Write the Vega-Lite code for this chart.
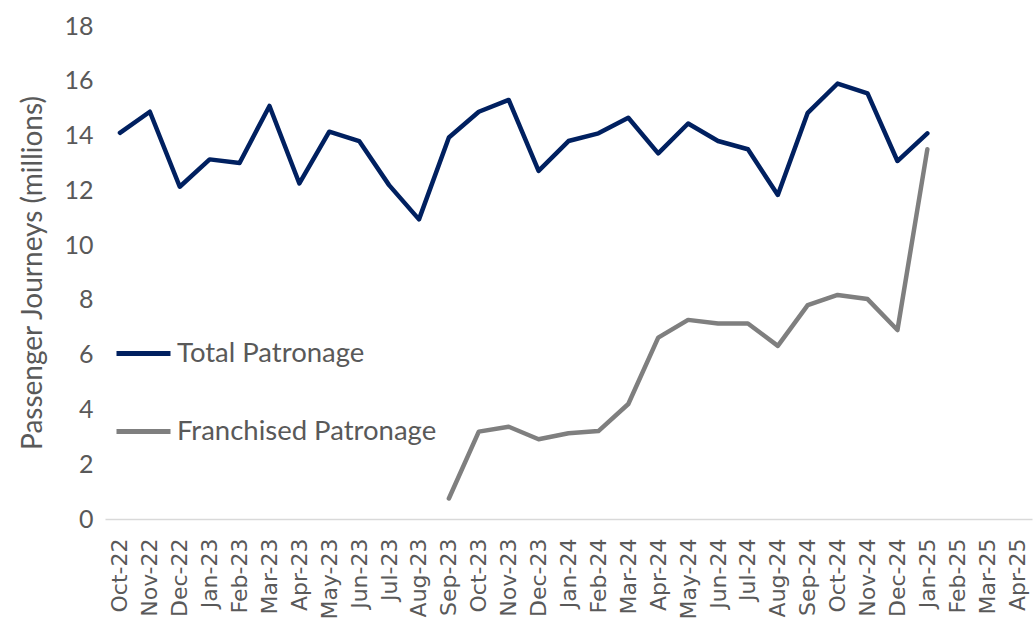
{
  "$schema": "https://vega.github.io/schema/vega-lite/v6.json",
  "width": 927,
  "height": 493,
  "autosize": {"type": "none"},
  "padding": {"left": 105, "top": 26, "right": 3, "bottom": 105},
  "background": "white",
  "config": {
    "view": {"stroke": null},
    "font": "Lato"
  },
  "data": {
    "values": [
      {"month": "Oct-22", "series": "Total Patronage", "value": 14.1},
      {"month": "Nov-22", "series": "Total Patronage", "value": 14.87},
      {"month": "Dec-22", "series": "Total Patronage", "value": 12.13},
      {"month": "Jan-23", "series": "Total Patronage", "value": 13.13},
      {"month": "Feb-23", "series": "Total Patronage", "value": 13.0},
      {"month": "Mar-23", "series": "Total Patronage", "value": 15.08},
      {"month": "Apr-23", "series": "Total Patronage", "value": 12.25},
      {"month": "May-23", "series": "Total Patronage", "value": 14.14},
      {"month": "Jun-23", "series": "Total Patronage", "value": 13.8},
      {"month": "Jul-23", "series": "Total Patronage", "value": 12.19},
      {"month": "Aug-23", "series": "Total Patronage", "value": 10.94},
      {"month": "Sep-23", "series": "Total Patronage", "value": 13.93},
      {"month": "Oct-23", "series": "Total Patronage", "value": 14.87},
      {"month": "Nov-23", "series": "Total Patronage", "value": 15.3},
      {"month": "Dec-23", "series": "Total Patronage", "value": 12.71},
      {"month": "Jan-24", "series": "Total Patronage", "value": 13.8},
      {"month": "Feb-24", "series": "Total Patronage", "value": 14.08},
      {"month": "Mar-24", "series": "Total Patronage", "value": 14.65},
      {"month": "Apr-24", "series": "Total Patronage", "value": 13.35},
      {"month": "May-24", "series": "Total Patronage", "value": 14.44},
      {"month": "Jun-24", "series": "Total Patronage", "value": 13.8},
      {"month": "Jul-24", "series": "Total Patronage", "value": 13.5},
      {"month": "Aug-24", "series": "Total Patronage", "value": 11.83},
      {"month": "Sep-24", "series": "Total Patronage", "value": 14.83},
      {"month": "Oct-24", "series": "Total Patronage", "value": 15.9},
      {"month": "Nov-24", "series": "Total Patronage", "value": 15.54},
      {"month": "Dec-24", "series": "Total Patronage", "value": 13.07},
      {"month": "Jan-25", "series": "Total Patronage", "value": 14.08},
      {"month": "Sep-23", "series": "Franchised Patronage", "value": 0.75},
      {"month": "Oct-23", "series": "Franchised Patronage", "value": 3.19},
      {"month": "Nov-23", "series": "Franchised Patronage", "value": 3.37},
      {"month": "Dec-23", "series": "Franchised Patronage", "value": 2.91},
      {"month": "Jan-24", "series": "Franchised Patronage", "value": 3.13},
      {"month": "Feb-24", "series": "Franchised Patronage", "value": 3.21},
      {"month": "Mar-24", "series": "Franchised Patronage", "value": 4.2},
      {"month": "Apr-24", "series": "Franchised Patronage", "value": 6.62},
      {"month": "May-24", "series": "Franchised Patronage", "value": 7.27},
      {"month": "Jun-24", "series": "Franchised Patronage", "value": 7.14},
      {"month": "Jul-24", "series": "Franchised Patronage", "value": 7.14},
      {"month": "Aug-24", "series": "Franchised Patronage", "value": 6.32},
      {"month": "Sep-24", "series": "Franchised Patronage", "value": 7.81},
      {"month": "Oct-24", "series": "Franchised Patronage", "value": 8.18},
      {"month": "Nov-24", "series": "Franchised Patronage", "value": 8.03},
      {"month": "Dec-24", "series": "Franchised Patronage", "value": 6.9},
      {"month": "Jan-25", "series": "Franchised Patronage", "value": 13.5}
    ]
  },
  "mark": {"type": "line", "strokeWidth": 4.5, "strokeCap": "round", "strokeJoin": "round"},
  "encoding": {
    "x": {
      "field": "month",
      "type": "nominal",
      "sort": null,
      "scale": {
        "type": "point",
        "padding": 0.5,
        "domain": ["Oct-22","Nov-22","Dec-22","Jan-23","Feb-23","Mar-23","Apr-23","May-23","Jun-23","Jul-23","Aug-23","Sep-23","Oct-23","Nov-23","Dec-23","Jan-24","Feb-24","Mar-24","Apr-24","May-24","Jun-24","Jul-24","Aug-24","Sep-24","Oct-24","Nov-24","Dec-24","Jan-25","Feb-25","Mar-25","Apr-25"]
      },
      "axis": {
        "title": null,
        "labelAngle": 270,
        "labelAlign": "right",
        "labelBaseline": "middle",
        "labelFont": "DejaVu Sans",
        "labelFontSize": 22,
        "labelColor": "#595959",
        "labelPadding": 19,
        "ticks": false,
        "domainColor": "#d9d9d9",
        "domainWidth": 1.5,
        "grid": false
      }
    },
    "y": {
      "field": "value",
      "type": "quantitative",
      "scale": {"domain": [0, 18], "nice": false},
      "axis": {
        "title": "Passenger Journeys (millions)",
        "titleFont": "Lato",
        "titleFontSize": 28,
        "titleFontWeight": "normal",
        "titleColor": "#595959",
        "titlePadding": 16,
        "values": [0,2,4,6,8,10,12,14,16,18],
        "labelFont": "Lato",
        "labelFontSize": 25,
        "labelColor": "#595959",
        "labelPadding": 12,
        "ticks": false,
        "domain": false,
        "grid": false
      }
    },
    "color": {
      "field": "series",
      "type": "nominal",
      "scale": {
        "domain": ["Total Patronage", "Franchised Patronage"],
        "range": ["#002060", "#7f7f7f"]
      },
      "legend": {
        "title": null,
        "orient": "none",
        "legendX": 9,
        "legendY": 298,
        "symbolType": "stroke",
        "symbolSize": 2916,
        "symbolStrokeWidth": 5,
        "labelFont": "Lato",
        "labelFontSize": 27.5,
        "labelColor": "#595959",
        "labelOffset": 4,
        "labelLimit": 500,
        "rowPadding": 35
      }
    }
  }
}
